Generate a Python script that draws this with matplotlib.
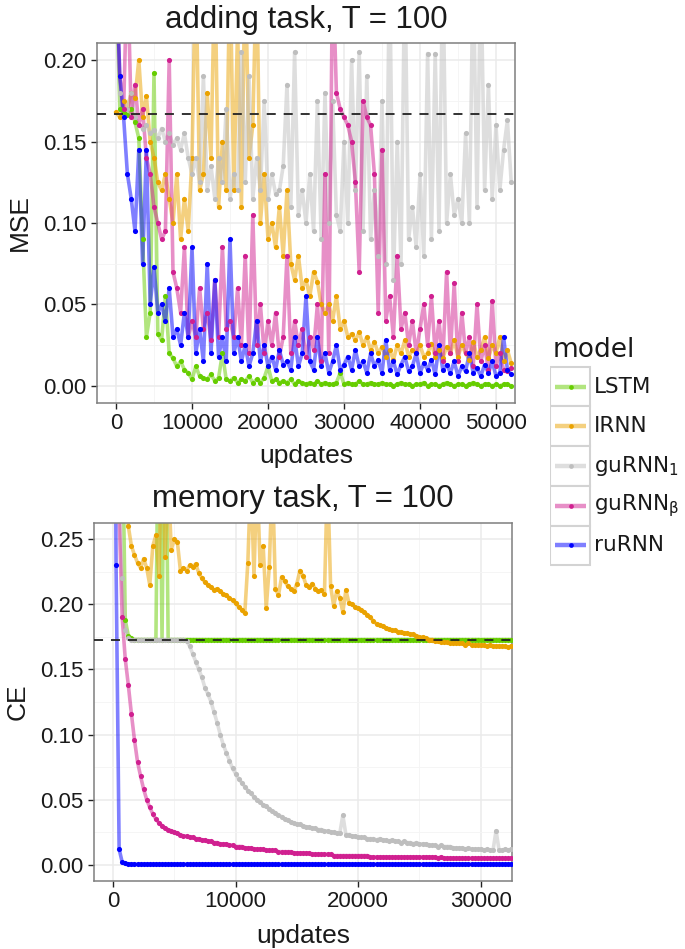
import numpy as np
import matplotlib
matplotlib.use("Agg")
import matplotlib.pyplot as plt
from matplotlib.patches import Rectangle
from matplotlib.ticker import MultipleLocator, FixedLocator

plt.rcParams["font.family"] = ["Liberation Sans", "DejaVu Sans"]
plt.rcParams["mathtext.fontset"] = "dejavusans"

# ---------------- data ----------------
models = ["LSTM", "IRNN", "guRNN1", "guRNNb", "ruRNN"]
legend_labels = ["LSTM", "IRNN", r"guRNN$_1$", r"guRNN$_{\mathrm{β}}$", "ruRNN"]
colors = ["#66CD00", "#EAA200", "#BEBEBE", "#D02090", "#0000FF"]

add_step = 500   # updates between logged points, adding task
mem_step = 250   # updates between logged points, memory task
add_baseline = 0.167
mem_baseline = 0.173

add_LSTM = [
    0.260, 0.170, 0.168, 0.166, 0.170, 0.162, 0.152, 0.090, 0.030, 0.045,
    0.192, 0.032, 0.028, 0.055, 0.020, 0.017, 0.012, 0.015, 0.010, 0.008,
    0.004, 0.012, 0.006, 0.005, 0.004, 0.007, 0.003, 0.005, 0.020, 0.004,
    0.003, 0.005, 0.002, 0.004, 0.003, 0.006, 0.002, 0.004, 0.002, 0.005,
    0.012, 0.003, 0.004, 0.002, 0.003, 0.002, 0.004, 0.001, 0.003, 0.002,
    0.001, 0.002, 0.001, 0.003, 0.001, 0.002, 0.001, 0.001, 0.002, 0.008,
    0.001, 0.002, 0.001, 0.001, 0.003, 0.001, 0.001, 0.002, 0.001, 0.001,
    0.002, 0.001, 0.001, 0.000, 0.001, 0.002, 0.001, 0.001, 0.000, 0.001,
    0.001, 0.002, 0.000, 0.001, 0.001, 0.000, 0.001, 0.002, 0.001, 0.000,
    0.001, 0.001, 0.000, 0.001, 0.002, 0.001, 0.000, 0.001, 0.001, 0.000,
    0.001, 0.000, 0.001, 0.001, 0.000,
]
add_IRNN = [
    0.168, 0.165, 0.175, 0.170, 0.180, 0.177, 0.200, 0.165, 0.178, 0.150,
    0.140, 0.125, 0.120, 0.130, 0.115, 0.100, 0.130, 0.090, 0.115, 0.095,
    0.140, 0.260, 0.120, 0.130, 0.180, 0.140, 0.260, 0.110, 0.150, 0.120,
    0.260, 0.120, 0.220, 0.110, 0.260, 0.140, 0.160, 0.260, 0.100, 0.130,
    0.090, 0.100, 0.085, 0.110, 0.080, 0.120, 0.075, 0.065, 0.080, 0.060,
    0.065, 0.055, 0.070, 0.064, 0.050, 0.045, 0.050, 0.040, 0.055, 0.035,
    0.040, 0.030, 0.032, 0.028, 0.033, 0.025, 0.030, 0.022, 0.027, 0.020,
    0.024, 0.018, 0.022, 0.016, 0.025, 0.020, 0.028, 0.018, 0.022, 0.020,
    0.025, 0.018, 0.020, 0.026, 0.018, 0.022, 0.017, 0.024, 0.020, 0.028,
    0.018, 0.025, 0.020, 0.016, 0.027, 0.018, 0.022, 0.030, 0.017, 0.025,
    0.020, 0.030, 0.015, 0.022, 0.014,
]
add_guRNN1 = [
    0.260, 0.180, 0.165, 0.170, 0.180, 0.165, 0.160, 0.158, 0.160, 0.155,
    0.157, 0.152, 0.158, 0.150, 0.155, 0.148, 0.152, 0.145, 0.155, 0.140,
    0.130, 0.140, 0.125, 0.190, 0.120, 0.135, 0.115, 0.140, 0.125, 0.170,
    0.115, 0.130, 0.120, 0.205, 0.125, 0.190, 0.115, 0.140, 0.120, 0.175,
    0.115, 0.130, 0.118, 0.120, 0.135, 0.185, 0.110, 0.205, 0.105, 0.120,
    0.100, 0.130, 0.095, 0.175, 0.090, 0.180, 0.100, 0.175, 0.105, 0.095,
    0.150, 0.100, 0.200, 0.120, 0.205, 0.095, 0.190, 0.090, 0.120, 0.080,
    0.175, 0.075, 0.260, 0.065, 0.150, 0.075, 0.260, 0.090, 0.110, 0.085,
    0.130, 0.080, 0.204, 0.090, 0.204, 0.095, 0.260, 0.100, 0.130, 0.105,
    0.115, 0.100, 0.155, 0.100, 0.260, 0.110, 0.260, 0.120, 0.185, 0.115,
    0.160, 0.120, 0.145, 0.163, 0.125,
]
add_guRNNb = [
    0.260, 0.190, 0.170, 0.260, 0.165, 0.185, 0.160, 0.170, 0.140, 0.130,
    0.110, 0.100, 0.090, 0.095, 0.200, 0.070, 0.060, 0.045, 0.085, 0.030,
    0.040, 0.030, 0.060, 0.035, 0.045, 0.028, 0.065, 0.030, 0.085, 0.035,
    0.040, 0.030, 0.060, 0.025, 0.080, 0.020, 0.105, 0.025, 0.050, 0.020,
    0.040, 0.025, 0.045, 0.018, 0.030, 0.080, 0.020, 0.040, 0.025, 0.035,
    0.018, 0.030, 0.022, 0.050, 0.015, 0.130, 0.020, 0.260, 0.180, 0.170,
    0.165, 0.160, 0.150, 0.125, 0.070, 0.175, 0.165, 0.160, 0.130, 0.045,
    0.145, 0.040, 0.055, 0.030, 0.080, 0.035, 0.045, 0.025, 0.040, 0.020,
    0.035, 0.050, 0.025, 0.055, 0.020, 0.040, 0.015, 0.070, 0.020, 0.063,
    0.015, 0.045, 0.020, 0.030, 0.012, 0.050, 0.015, 0.025, 0.010, 0.052,
    0.012, 0.020, 0.010, 0.009, 0.011,
]
add_ruRNN = [
    0.260, 0.190, 0.165, 0.130, 0.115, 0.095, 0.145, 0.075, 0.145, 0.050,
    0.073, 0.045, 0.050, 0.040, 0.060, 0.030, 0.035, 0.025, 0.045, 0.030,
    0.085, 0.020, 0.035, 0.015, 0.075, 0.020, 0.065, 0.018, 0.030, 0.015,
    0.090, 0.020, 0.030, 0.015, 0.025, 0.012, 0.020, 0.040, 0.015, 0.025,
    0.012, 0.018, 0.010, 0.022, 0.013, 0.015, 0.010, 0.030, 0.012, 0.020,
    0.055, 0.015, 0.010, 0.030, 0.012, 0.020, 0.008, 0.015, 0.025, 0.010,
    0.013, 0.018, 0.010, 0.022, 0.012, 0.015, 0.008, 0.020, 0.012, 0.016,
    0.008, 0.028, 0.010, 0.015, 0.007, 0.013, 0.018, 0.009, 0.012, 0.020,
    0.008, 0.014, 0.010, 0.016, 0.007, 0.025, 0.010, 0.013, 0.008, 0.015,
    0.006, 0.012, 0.009, 0.020, 0.008, 0.011, 0.006, 0.013, 0.008, 0.015,
    0.006, 0.008, 0.030, 0.010, 0.007,
]

mem_LSTM = [
    0.450, 0.450, 0.420, 0.350, 0.188, 0.176, 0.174, 0.173, 0.173, 0.173,
    0.173, 0.173, 0.173, 0.173, 0.173, 0.400, 0.173, 0.400, 0.173, 0.173,
    0.173, 0.173, 0.173, 0.173, 0.173, 0.173, 0.173, 0.173, 0.173, 0.173,
    0.173, 0.173, 0.173, 0.173, 0.173, 0.173, 0.173, 0.173, 0.173, 0.173,
    0.173, 0.173, 0.173, 0.173, 0.173, 0.173, 0.173, 0.173, 0.173, 0.173,
    0.173, 0.173, 0.173, 0.173, 0.173, 0.173, 0.173, 0.173, 0.173, 0.173,
    0.173, 0.173, 0.173, 0.173, 0.173, 0.173, 0.173, 0.173, 0.173, 0.173,
    0.173, 0.173, 0.173, 0.173, 0.173, 0.173, 0.173, 0.173, 0.173, 0.173,
    0.173, 0.173, 0.173, 0.173, 0.173, 0.173, 0.173, 0.173, 0.173, 0.173,
    0.173, 0.173, 0.173, 0.173, 0.173, 0.173, 0.173, 0.173, 0.173, 0.173,
    0.173, 0.173, 0.173, 0.173, 0.173, 0.173, 0.173, 0.173, 0.173, 0.173,
    0.173, 0.173, 0.173, 0.173, 0.173, 0.173, 0.173, 0.173, 0.173, 0.173,
    0.173, 0.173, 0.173, 0.173, 0.173, 0.173, 0.173, 0.173, 0.173, 0.173,
    0.173,
]
mem_IRNN = [
    0.450, 0.450, 0.420, 0.380, 0.300, 0.260, 0.245, 0.238, 0.232, 0.228,
    0.235, 0.228, 0.215, 0.245, 0.253, 0.222, 0.330, 0.236, 0.300, 0.242,
    0.250, 0.248, 0.226, 0.228, 0.226, 0.230, 0.229, 0.231, 0.224, 0.220,
    0.217, 0.215, 0.213, 0.211, 0.212, 0.210, 0.208, 0.207, 0.205, 0.203,
    0.201, 0.198, 0.196, 0.193, 0.232, 0.300, 0.222, 0.300, 0.230, 0.245,
    0.197, 0.229, 0.300, 0.212, 0.207, 0.221, 0.218, 0.214, 0.212, 0.210,
    0.216, 0.226, 0.222, 0.215, 0.213, 0.216, 0.212, 0.210, 0.211, 0.208,
    0.300, 0.214, 0.199, 0.210, 0.205, 0.194, 0.211, 0.201, 0.200, 0.198,
    0.197, 0.196, 0.194, 0.192, 0.190, 0.187, 0.185, 0.184, 0.183, 0.182,
    0.181, 0.180, 0.180, 0.179, 0.179, 0.178, 0.178, 0.177, 0.177, 0.176,
    0.175, 0.175, 0.174, 0.173, 0.173, 0.172, 0.172, 0.171, 0.171, 0.171,
    0.170, 0.170, 0.170, 0.170, 0.170, 0.169, 0.170, 0.169, 0.169, 0.169,
    0.169, 0.169, 0.168, 0.169, 0.168, 0.168, 0.168, 0.168, 0.168, 0.167,
    0.168,
]
mem_guRNN1 = [
    0.400, 0.350, 0.300, 0.220, 0.180, 0.174, 0.173, 0.173, 0.173, 0.173,
    0.173, 0.173, 0.173, 0.173, 0.173, 0.173, 0.173, 0.173, 0.173, 0.173,
    0.173, 0.173, 0.173, 0.173, 0.172, 0.168, 0.162, 0.156, 0.150, 0.144,
    0.136, 0.131, 0.125, 0.117, 0.109, 0.100, 0.092, 0.086, 0.080, 0.074,
    0.070, 0.066, 0.063, 0.060, 0.057, 0.055, 0.052, 0.050, 0.048, 0.046,
    0.045, 0.043, 0.041, 0.040, 0.038, 0.037, 0.035, 0.034, 0.033, 0.032,
    0.031, 0.031, 0.030, 0.029, 0.029, 0.028, 0.028, 0.027, 0.027, 0.026,
    0.026, 0.025, 0.025, 0.024, 0.024, 0.038, 0.023, 0.023, 0.022, 0.022,
    0.021, 0.021, 0.021, 0.020, 0.020, 0.020, 0.019, 0.020, 0.019, 0.019,
    0.018, 0.019, 0.018, 0.018, 0.017, 0.018, 0.017, 0.017, 0.016, 0.017,
    0.016, 0.016, 0.016, 0.015, 0.015, 0.015, 0.014, 0.015, 0.014, 0.014,
    0.014, 0.013, 0.013, 0.013, 0.013, 0.012, 0.013, 0.012, 0.012, 0.012,
    0.012, 0.011, 0.012, 0.011, 0.011, 0.026, 0.011, 0.011, 0.012, 0.011,
    0.012,
]
mem_guRNNb = [
    0.450, 0.400, 0.270, 0.190, 0.158, 0.138, 0.116, 0.096, 0.079, 0.068,
    0.058, 0.050, 0.044, 0.039, 0.035, 0.032, 0.030, 0.028, 0.027, 0.026,
    0.025, 0.024, 0.023, 0.022, 0.022, 0.021, 0.021, 0.020, 0.020, 0.019,
    0.019, 0.018, 0.018, 0.017, 0.017, 0.016, 0.016, 0.016, 0.015, 0.015,
    0.014, 0.014, 0.014, 0.013, 0.013, 0.013, 0.012, 0.012, 0.012, 0.012,
    0.011, 0.011, 0.011, 0.011, 0.010, 0.010, 0.010, 0.010, 0.010, 0.009,
    0.009, 0.009, 0.009, 0.009, 0.009, 0.008, 0.008, 0.008, 0.008, 0.008,
    0.008, 0.008, 0.007, 0.007, 0.007, 0.007, 0.007, 0.007, 0.007, 0.007,
    0.007, 0.007, 0.007, 0.007, 0.006, 0.006, 0.006, 0.006, 0.006, 0.006,
    0.006, 0.006, 0.006, 0.006, 0.006, 0.006, 0.006, 0.006, 0.006, 0.006,
    0.006, 0.006, 0.006, 0.006, 0.006, 0.006, 0.005, 0.006, 0.005, 0.005,
    0.005, 0.005, 0.005, 0.005, 0.005, 0.005, 0.005, 0.005, 0.005, 0.005,
    0.005, 0.005, 0.005, 0.005, 0.005, 0.005, 0.005, 0.005, 0.005, 0.005,
    0.005,
]
mem_ruRNN = [
    0.690, 0.230, 0.012, 0.002, 0.001, 0.0005, 0.0004, 0.0003, 0.0003, 0.0003,
    0.0003, 0.0003, 0.0003, 0.0003, 0.0003, 0.0003, 0.0003, 0.0003, 0.0003, 0.0003,
    0.0003, 0.0003, 0.0003, 0.0003, 0.0003, 0.0003, 0.0003, 0.0003, 0.0003, 0.0003,
    0.0003, 0.0003, 0.0003, 0.0003, 0.0003, 0.0003, 0.0003, 0.0003, 0.0003, 0.0003,
    0.0003, 0.0003, 0.0003, 0.0003, 0.0003, 0.0003, 0.0003, 0.0003, 0.0003, 0.0003,
    0.0003, 0.0003, 0.0003, 0.0003, 0.0003, 0.0003, 0.0003, 0.0003, 0.0003, 0.0003,
    0.0003, 0.0003, 0.0003, 0.0003, 0.0003, 0.0003, 0.0003, 0.0003, 0.0003, 0.0003,
    0.0003, 0.0003, 0.0003, 0.0003, 0.0003, 0.0003, 0.0003, 0.0003, 0.0003, 0.0003,
    0.0003, 0.0003, 0.0003, 0.0003, 0.0003, 0.0003, 0.0003, 0.0003, 0.0003, 0.0003,
    0.0003, 0.0003, 0.0003, 0.0003, 0.0003, 0.0003, 0.0003, 0.0003, 0.0003, 0.0003,
    0.0003, 0.0003, 0.0003, 0.0003, 0.0003, 0.0003, 0.0003, 0.0003, 0.0003, 0.0003,
    0.0003, 0.0003, 0.0003, 0.0003, 0.0003, 0.0003, 0.0003, 0.0003, 0.0003, 0.0003,
    0.0003, 0.0003, 0.0003, 0.0003, 0.0003, 0.0003, 0.0003, 0.0003, 0.0003, 0.0003,
    0.0003,
]

add_series = [add_LSTM, add_IRNN, add_guRNN1, add_guRNNb, add_ruRNN]
mem_series = [mem_LSTM, mem_IRNN, mem_guRNN1, mem_guRNNb, mem_ruRNN]

add_xticks = [0, 10000, 20000, 30000, 40000, 50000]
add_yticks = [0.00, 0.05, 0.10, 0.15, 0.20]
mem_xticks = [0, 10000, 20000, 30000]
mem_yticks = [0.00, 0.05, 0.10, 0.15, 0.20, 0.25]

# ---------------- figure ----------------
W, H = 685, 949
fig = plt.figure(figsize=(W / 100, H / 100), dpi=100)
fig.patch.set_facecolor("white")


def px_axes(l, t, r, b):
    return fig.add_axes([l / W, 1 - b / H, (r - l) / W, (b - t) / H])


ax1 = px_axes(97, 43, 515, 403)
ax2 = px_axes(94, 523, 512, 881)

TXT = "#1A1A1A"


def style(ax, xticks, yticks, xlim, ylim, xminor, title, ylabel, title_pad, ylab_x, xlab_y):
    ax.set_xlim(*xlim)
    ax.set_ylim(*ylim)
    ax.set_xticks(xticks)
    ax.set_xticklabels([str(v) for v in xticks])
    ax.set_yticks(yticks)
    ax.set_yticklabels(["%.2f" % v for v in yticks])
    ax.xaxis.set_minor_locator(FixedLocator(xminor))
    ax.yaxis.set_minor_locator(MultipleLocator(0.025))
    ax.set_axisbelow(True)
    ax.grid(which="major", color="#EBEBEB", lw=1.1)
    ax.grid(which="minor", color="#F4F4F4", lw=0.6)
    ax.tick_params(which="major", length=4.3, width=1.0, color="#222222",
                   labelsize=16, labelcolor=TXT, pad=3.0)
    ax.tick_params(which="minor", length=0)
    for s in ax.spines.values():
        s.set_color("#7F7F7F")
        s.set_linewidth(1.1)
    ax.set_title(title, fontsize=22.5, pad=title_pad, color=TXT)
    ax.set_ylabel(ylabel, fontsize=19, color=TXT)
    ax.set_xlabel("updates", fontsize=19, color=TXT)
    ax.yaxis.set_label_coords(ylab_x, 0.5)
    ax.xaxis.set_label_coords(0.5, xlab_y)


def draw(ax, series, step, baseline):
    xs = [np.arange(len(s)) * step for s in series]
    for x, y, c in zip(xs, series, colors):
        ax.plot(x, y, color=c, alpha=0.5, lw=2.6, solid_joinstyle="round", zorder=2)
    for x, y, c in zip(xs, series, colors):
        ax.plot(x, y, "o", color=c, ms=3.7, mew=0, zorder=3)
    ax.axhline(baseline, color="#222222", lw=1.3, dashes=(5, 4.4), zorder=4)


draw(ax1, add_series, add_step, add_baseline)
style(ax1, add_xticks, add_yticks, (-2500, 52500), (-0.0105, 0.2105),
      [5000, 15000, 25000, 35000, 45000],
      "adding task, T = 100", "MSE", 10.5, -0.155, -0.115)

draw(ax2, mem_series, mem_step, mem_baseline)
style(ax2, mem_xticks, mem_yticks, (-1550, 32550), (-0.0125, 0.2625),
      [5000, 15000, 25000],
      "memory task, T = 100", "CE", 11.5, -0.155, -0.12)

# ---------------- legend ----------------
lax = px_axes(550, 330, 685, 570)
lax.set_xlim(0, 135)
lax.set_ylim(240, 0)
lax.axis("off")
lax.text(3, 27, "model", fontsize=19, family="DejaVu Sans", color=TXT, va="baseline")
key_h = 39.7
for k, (lab, c) in enumerate(zip(legend_labels, colors)):
    y0 = 36.7 + key_h * k
    yc = y0 + key_h / 2
    lax.add_patch(Rectangle((0, y0), 40, key_h, facecolor="white", edgecolor="#D3D3D3", lw=1.5))
    lax.plot([5, 36], [yc, yc], color=c, alpha=0.5, lw=3.2, solid_capstyle="butt")
    lax.plot([20.5], [yc], "o", color=c, ms=3.4, mew=0)
    lax.text(44, yc, lab, fontsize=15.5, family="DejaVu Sans", color=TXT, va="center")

fig.savefig("out.png", dpi=100, facecolor="white")
